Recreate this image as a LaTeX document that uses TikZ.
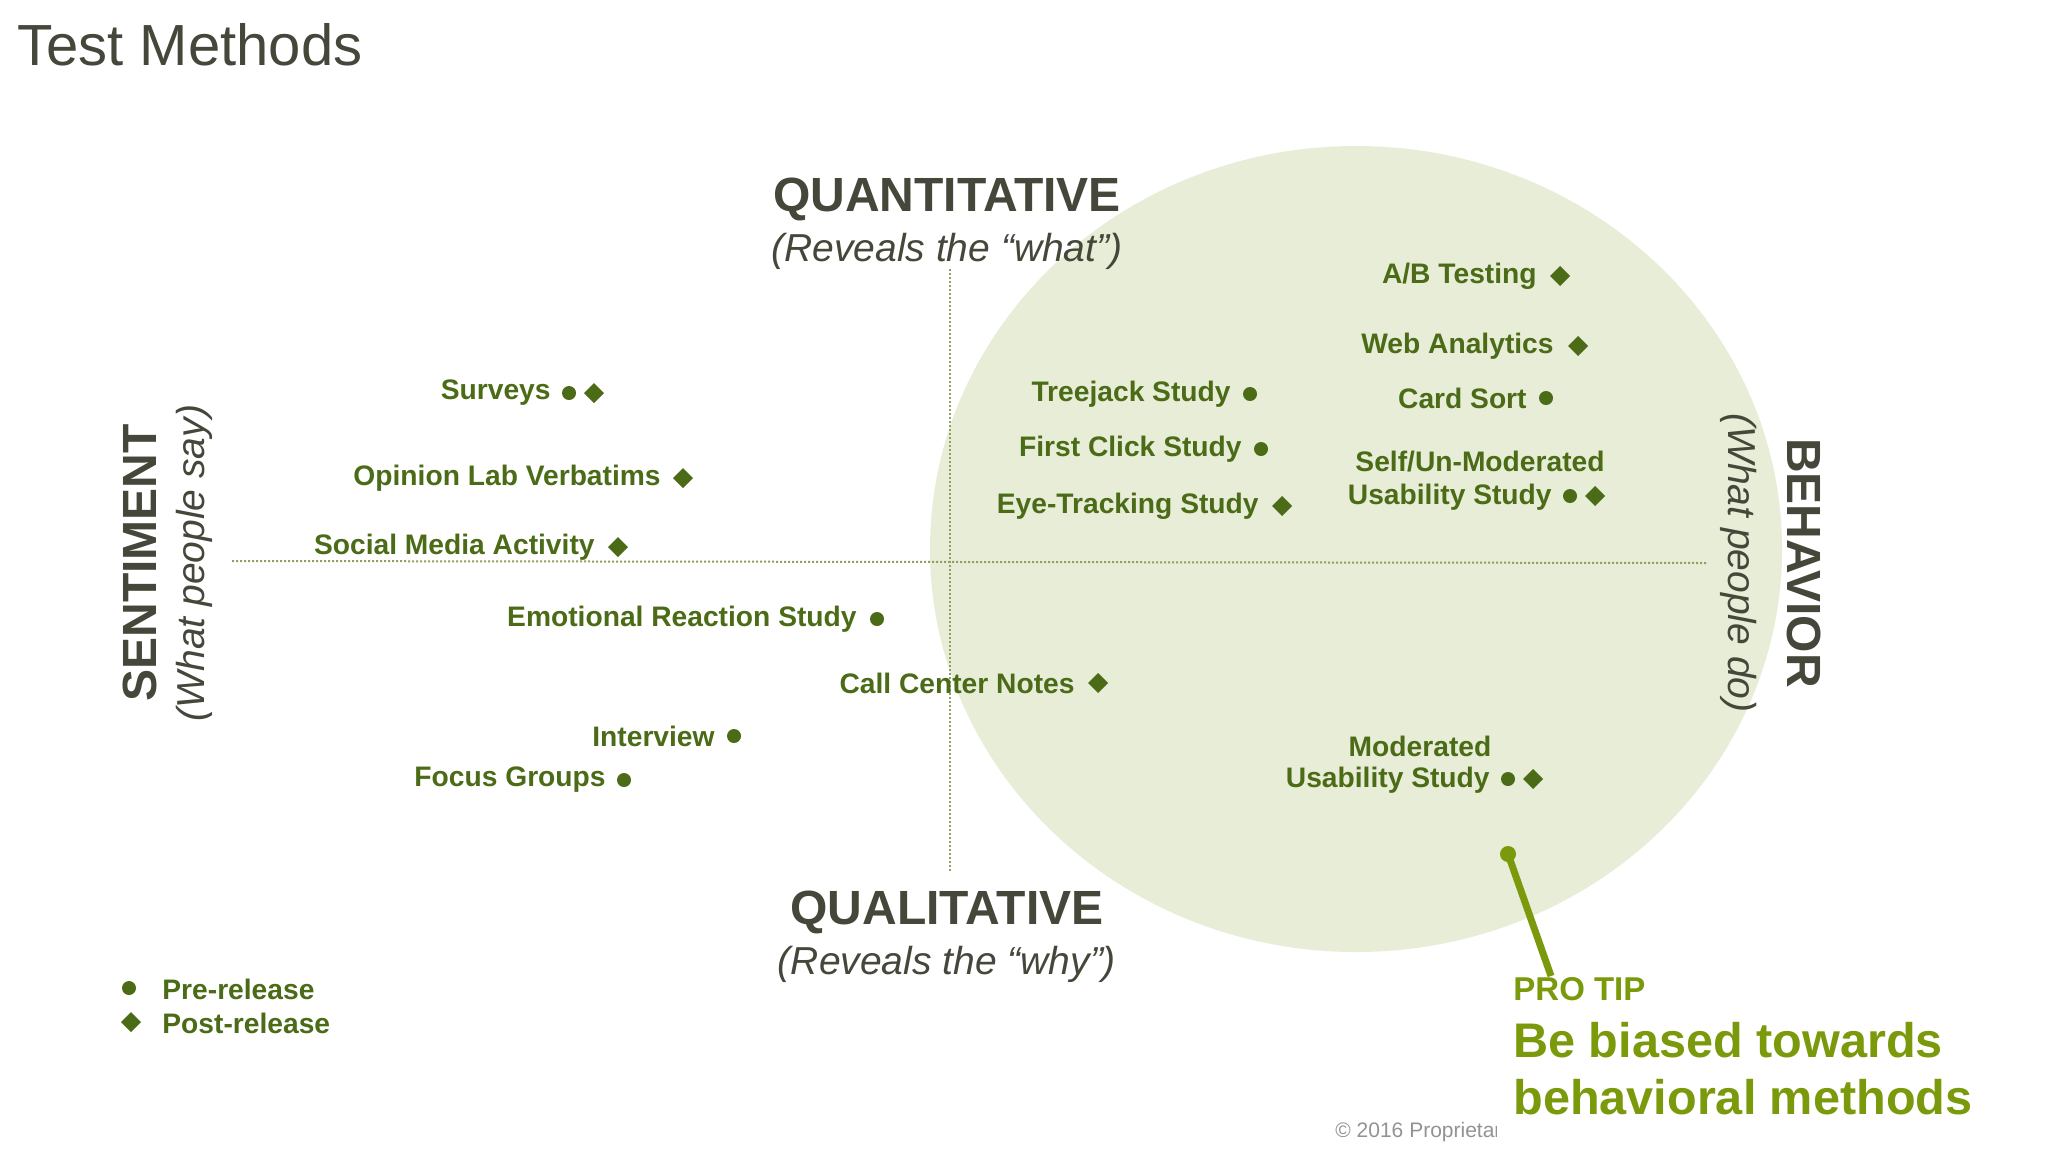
\documentclass[tikz,border=0pt]{standalone}
\usepackage{fontspec}
\setmainfont{Liberation Sans}
\definecolor{lab}{HTML}{4B6B17}
\definecolor{circ}{HTML}{E7EDD7}
\definecolor{head}{HTML}{45473A}
\definecolor{tip}{HTML}{7A9A0C}
\definecolor{dots}{HTML}{8FA060}
\begin{document}
\begin{tikzpicture}[x=0.5pt,y=-0.5pt,
  lbl/.style={font=\fontsize{14.1}{16}\selectfont\bfseries, text=lab, anchor=east, inner sep=0pt},
  lbl2/.style={font=\fontsize{14.1}{16}\selectfont\bfseries, text=lab, inner sep=0pt},
  head/.style={font=\fontsize{24}{26}\selectfont\bfseries, text=head, inner sep=0pt},
  sub/.style={font=\fontsize{19.5}{22}\selectfont\itshape, text=head, inner sep=0pt}]
\useasboundingbox (0,0) rectangle (2048,1152);
\fill[white] (0,0) rectangle (2048,1152);
\fill[circ] (1356,549) ellipse [x radius=426, y radius=403];
% axes
\coordinate (vt) at (950,269); \coordinate (vb) at (950,873);
\coordinate (hl) at (232,561); \coordinate (hr) at (1707,563);
\draw[dots, densely dotted, line width=1pt] (vt) -- (vb);
\draw[dots, densely dotted, line width=1pt] (hl) -- (hr);
\node[anchor=west, font=\fontsize{29}{32}\selectfont, text=head, inner sep=0pt] (title) at (17,45) {Test Methods};
\node[head] (qn) at (947,199) {QUANTITATIVE};
\node[sub] (qns) at (947,251) {(Reveals the “what”)};
\node[head] (ql) at (947,912) {QUALITATIVE};
\node[sub] (qls) at (947,964) {(Reveals the “why”)};
\node[head, rotate=90] (sent) at (140,563) {SENTIMENT};
\node[sub, rotate=90] (sents) at (194,563) {(What people say)};
\node[head, rotate=-90] (beh) at (1804,563) {BEHAVIOR};
\node[sub, rotate=-90] (behs) at (1739,563) {(What people do)};
% labels
\node[lbl] (s1) at (551,393) {Surveys}; \fill[lab] (569,393) circle[radius=7];
\fill[lab] (594,383) -- (604,393) -- (594,403) -- (584,393) -- cycle;
\node[lbl] (s2) at (661,478) {Opinion Lab Verbatims};
\fill[lab] (683,468) -- (693,478) -- (683,488) -- (673,478) -- cycle;
\node[lbl] (s3) at (595,547) {Social Media Activity};
\fill[lab] (618,537) -- (628,547) -- (618,557) -- (608,547) -- cycle;
\node[lbl] (s4) at (857,619) {Emotional Reaction Study}; \fill[lab] (877,619) circle[radius=7];
\node[lbl] (s5) at (1075,683) {Call Center Notes};
\fill[lab] (1098,673) -- (1108,683) -- (1098,693) -- (1088,683) -- cycle;
\node[lbl] (s6) at (715,736) {Interview}; \fill[lab] (734,736) circle[radius=7];
\node[lbl] (s7) at (606,780) {Focus Groups}; \fill[lab] (624,780) circle[radius=7];
\node[lbl] (b1) at (1231,394) {Treejack Study}; \fill[lab] (1250,394) circle[radius=7];
\node[lbl] (b2) at (1242,449) {First Click Study}; \fill[lab] (1261,449) circle[radius=7];
\node[lbl] (b3) at (1259,506) {Eye-Tracking Study};
\fill[lab] (1282,496) -- (1292,506) -- (1282,516) -- (1272,506) -- cycle;
\node[lbl] (b4) at (1537,276) {A/B Testing};
\fill[lab] (1560,266) -- (1570,276) -- (1560,286) -- (1550,276) -- cycle;
\node[lbl] (b5) at (1554,346) {Web Analytics};
\fill[lab] (1578,336) -- (1588,346) -- (1578,356) -- (1568,346) -- cycle;
\node[lbl] (b6) at (1527,398) {Card Sort}; \fill[lab] (1546,398) circle[radius=7];
\node[lbl2] (b7a) at (1480,462) {Self/Un-Moderated};
\node[lbl] (b7b) at (1552,497) {Usability Study}; \fill[lab] (1570,496) circle[radius=7];
\fill[lab] (1595,486) -- (1605,496) -- (1595,506) -- (1585,496) -- cycle;
\node[lbl2] (b8a) at (1420,746) {Moderated};
\node[lbl] (b8b) at (1490,780) {Usability Study}; \fill[lab] (1508,779) circle[radius=7];
\fill[lab] (1533,769) -- (1543,779) -- (1533,789) -- (1523,779) -- cycle;
% legend
\fill[lab] (129,988) circle[radius=7];
\node[lbl, anchor=west] (lg1) at (162,989) {Pre-release};
\fill[lab] (131,1012) -- (141,1022) -- (131,1032) -- (121,1022) -- cycle;
\node[lbl, anchor=west] (lg2) at (162,1023) {Post-release};
% pro tip
\coordinate (tipdot) at (1508,854); \coordinate (tipend) at (1551,976);
\fill[tip] (tipdot) circle[radius=8];
\draw[tip, line width=3.5pt] (tipdot) -- (tipend);
\node[anchor=west, font=\fontsize{16.5}{18}\selectfont\bfseries, text=tip, inner sep=0pt] (pt) at (1513,989) {PRO TIP};
\node[anchor=west, font=\fontsize{24.3}{28}\selectfont\bfseries, text=tip, inner sep=0pt] (pt1) at (1513,1040) {Be biased towards};
\node[anchor=west, font=\fontsize{24.3}{28}\selectfont\bfseries, text=tip, inner sep=0pt] (pt2) at (1513,1097) {behavioral methods};
\begin{scope}
\clip (1325,1108) rectangle (1496,1152);
\node[anchor=west, font=\fontsize{10.5}{12}\selectfont, text=gray!85, inner sep=0pt] (cp) at (1335,1132) {© 2016 Proprietary};
\end{scope}
\end{tikzpicture}
\end{document}
